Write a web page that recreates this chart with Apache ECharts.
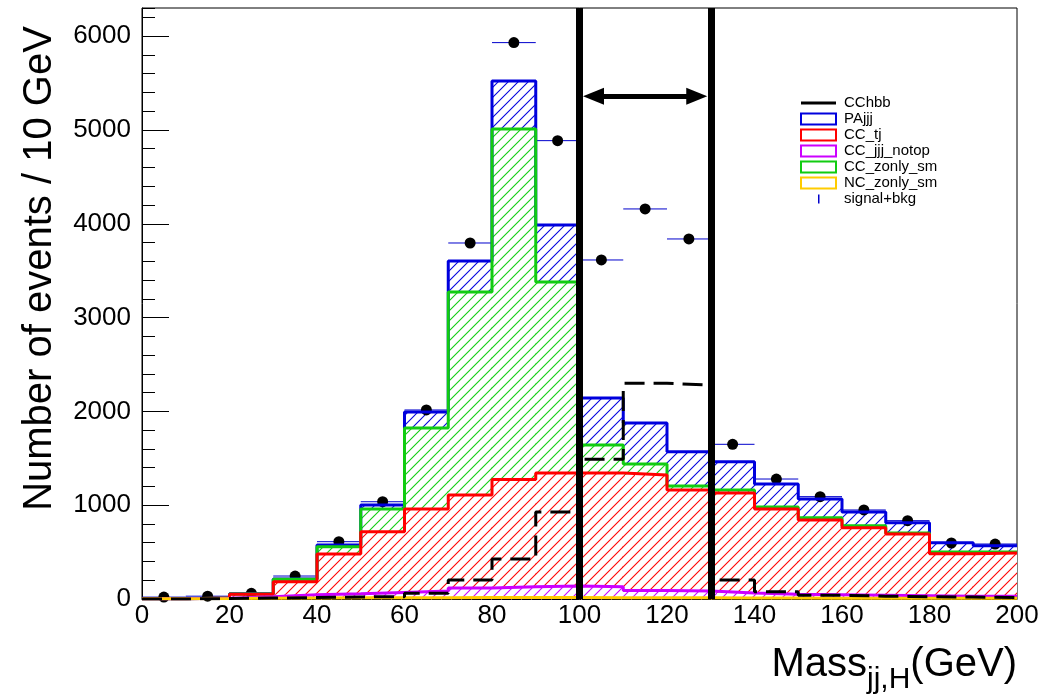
<!DOCTYPE html>
<html><head><meta charset="utf-8">
<script src="https://cdn.jsdelivr.net/npm/echarts@6/dist/echarts.min.js"></script>
<style>html,body{margin:0;padding:0;background:#fff}#c{width:1053px;height:696px}</style>
</head><body><div id="c"></div>
<script>
// ---- data (bin lower edges, GeV; 10 GeV bins) ----
const binLow       = [0,10,20,30,40,50,60,70,80,90,100,110,120,130,140,150,160,170,180,190];
const NC_zonly_sm  = [2,4,8,10,12,12,14,15,15,15,14,12,12,10,10,9,8,8,7,7];
const CC_jjj_notop = [1,3,17,35,43,58,71,102,116,123,117,78,73,54,40,36,32,27,23,21];
const CC_tj        = [0,3,25,140,425,647,875,992,1144,1205,1212,1232,1077,1066,910,797,720,658,453,462];
const CC_zonly_sm  = [0,0,2,25,77,243,863,2164,3736,2037,299,117,43,32,21,25,21,10,18,11];
const PAjjj        = [0,0,3,2,18,42,170,330,511,607,501,437,365,302,245,199,147,110,99,67];
const CChbb        = [0,5,10,15,22,25,60,203,426,927,1490,2300,2280,203,78,40,30,25,20,15];
const signalBkg    = [20,30,60,245,611,1037,2015,3795,5931,4886,3614,4158,3838,1649,1279,1091,949,835,597,586];
const windowEdges  = [100,130];
const xTickStep = 20, yMajorStep = 1000, yMinorStep = 200;
const binWidth = 10;

const FONT = '"Liberation Sans", Arial, Helvetica, sans-serif';
const C = {blue:'#0000dd', green:'#11cc11', red:'#ff0000', mag:'#cc00ff', yel:'#ffcc00'};
const HATCH = 10;

function cum(){ const arrs = Array.from(arguments); return binLow.map((_, i) => arrs.reduce((s, a) => s + a[i], 0)); }
function steps(vals){
  const d = binLow.map((x, i) => [x, vals[i]]);
  d.push([binLow[binLow.length-1] + binWidth, vals[vals.length-1]]);
  return d;
}
const cYel = cum(NC_zonly_sm);
const cMag = cum(NC_zonly_sm, CC_jjj_notop);
const cRed = cum(NC_zonly_sm, CC_jjj_notop, CC_tj);
const cGrn = cum(NC_zonly_sm, CC_jjj_notop, CC_tj, CC_zonly_sm);
const cBlu = cum(NC_zonly_sm, CC_jjj_notop, CC_tj, CC_zonly_sm, PAjjj);

// hatch drawn as thin filled parallelograms (no strokes)
function hatchPolys(xl, xr, yt, yb, color){
  const out = [], h = 0.75;
  for (let c = Math.ceil((xl + yt) / HATCH) * HATCH; c <= xr + yb; c += HATCH){
    const lo = Math.max(xl, c - yb), hi = Math.min(xr, c - yt);
    if (hi - lo > 0.3) out.push({type:'polygon',
      shape:{points:[[lo, c - lo - h], [hi, c - hi - h], [hi, c - hi + h], [lo, c - lo + h]]},
      style:{fill:color}});
  }
  return out;
}
function fillLayer(name, vals, hatchColor){
  return {type:'custom', name: name, itemStyle:{color:hatchColor},
    data: binLow.map((x, i) => [x, vals[i]]),
    renderItem:function(params, api){
      const x = api.value(0), v = api.value(1);
      const p0 = api.coord([x, 0]), p1 = api.coord([x + binWidth, v]);
      const xl = Math.round(p0[0]), xr = Math.round(p1[0]), yt = p1[1], yb = p0[1];
      if (yb - yt < 0.5) return null;
      const children = [{type:'rect', shape:{x:xl, y:yt, width:xr - xl, height:yb - yt}, style:{fill:'#ffffff'}}]
        .concat(hatchPolys(xl, xr, yt, yb, hatchColor));
      return {type:'group', children};
    }};
}
function outline(name, vals, color){
  return {type:'line', name: name + ' outline', step:'end', data: steps(vals), symbol:'none',
    lineStyle:{color:color, width:3}};
}

const chart = echarts.init(document.getElementById('c'));
const blackLine = {color:'#000', width:7, type:'solid'};
const arrowLine = {color:'#000', width:5, type:'solid'};
function box(col){ return {color:'#ffffff', borderColor:col, borderWidth:2}; }
chart.setOption({
  animation:false,
  grid:{left:142, right:36, top:8, bottom:97, show:true, borderColor:'#000', borderWidth:1},
  legend:{orient:'vertical', left:800, top:95, padding:0, itemWidth:35, itemHeight:11, itemGap:0, selectedMode:false,
    textStyle:{fontSize:15, fontFamily:FONT, color:'#000', lineHeight:16, padding:[0,0,0,3]},
    data:[
      {name:'CChbb', icon:'path://M0,0 M0,4 L35,4 L35,7 L0,7 Z M35,11', itemStyle:{color:'#000', borderWidth:0}},
      {name:'PAjjj', icon:'rect', itemStyle:box(C.blue)},
      {name:'CC_tj', icon:'rect', itemStyle:box(C.red)},
      {name:'CC_jjj_notop', icon:'rect', itemStyle:box(C.mag)},
      {name:'CC_zonly_sm', icon:'rect', itemStyle:box(C.green)},
      {name:'NC_zonly_sm', icon:'rect', itemStyle:box(C.yel)},
      {name:'signal+bkg', icon:'path://M0,0 M17,1 L18.5,1 L18.5,10 L17,10 Z M35,11', itemStyle:{color:'#0000cc', borderWidth:0}}
    ]},
  xAxis:{type:'value', min:0, max:200, interval:xTickStep,
    axisLine:{show:true, lineStyle:{color:'#000', width:1}}, axisTick:{show:false}, splitLine:{show:false},
    axisLabel:{fontSize:26, color:'#000', fontFamily:FONT, margin:4, showMaxLabel:true, showMinLabel:true,
      formatter:function(v){ return String(v); }},
    name:'{m|Mass}{s|jj,H}{m|(GeV)}', nameLocation:'end', nameGap:0,
    nameTextStyle:{align:'right', verticalAlign:'top', padding:[46,0,0,0], fontFamily:FONT, color:'#000',
      rich:{m:{fontSize:40, lineHeight:44, verticalAlign:'top', fontFamily:FONT, color:'#000'},
            s:{fontSize:30, lineHeight:44, verticalAlign:'top', padding:[20,0,0,0], fontFamily:FONT, color:'#000'}}}},
  yAxis:[
    {type:'value', min:0, max:6300, interval:yMajorStep, position:'left',
      axisLine:{show:true, lineStyle:{color:'#000', width:1}},
      axisTick:{show:true, inside:true, length:27, lineStyle:{color:'#000', width:1}},
      axisLabel:{showMaxLabel:false, fontSize:26, color:'#000', fontFamily:FONT, margin:11,
        formatter:function(v){ return String(v); }},
      splitLine:{show:false},
      name:'Number of events / 10 GeV', nameLocation:'middle', nameRotate:90, nameGap:82,
      nameTextStyle:{fontSize:40, fontFamily:FONT, color:'#000', padding:[0,0,0,70]}},
    {type:'value', min:0, max:6300, interval:yMinorStep, position:'left',
      axisLine:{show:false}, axisTick:{show:true, inside:true, length:13, lineStyle:{color:'#000', width:1}},
      axisLabel:{show:false}, splitLine:{show:false}}
  ],
  series:[
    fillLayer('PAjjj', cBlu, C.blue),           outline('PAjjj', cBlu, C.blue),
    fillLayer('CC_zonly_sm', cGrn, C.green),    outline('CC_zonly_sm', cGrn, C.green),
    fillLayer('CC_tj', cRed, C.red),            outline('CC_tj', cRed, C.red),
    fillLayer('CC_jjj_notop', cMag, C.mag),     outline('CC_jjj_notop', cMag, C.mag),
    fillLayer('NC_zonly_sm', cYel, C.yel),      outline('NC_zonly_sm', cYel, C.yel),
    {type:'line', name:'CChbb', step:'end', data:steps(CChbb), symbol:'none',
      lineStyle:{color:'#000', width:3, type:[20,9]}, itemStyle:{color:'#000'},
      markLine:{silent:true, symbol:['none','none'], label:{show:false}, animation:false,
        data:[
          {xAxis:windowEdges[0], lineStyle:blackLine},
          {xAxis:windowEdges[1], lineStyle:blackLine},
          [{coord:[103.2,5360], symbol:'triangle', symbolSize:[17,21], lineStyle:arrowLine},
           {coord:[126.8,5360], symbol:'triangle', symbolSize:[17,21], lineStyle:arrowLine}]
        ]}},
    {type:'custom', name:'signal+bkg', itemStyle:{color:'#000'},
      data: binLow.map((x, i) => [x + binWidth/2, signalBkg[i]]),
      renderItem:function(params, api){
        const x = api.value(0), y = api.value(1);
        const c = api.coord([x, y]), l = api.coord([x - binWidth/2, y]), r = api.coord([x + binWidth/2, y]);
        return {type:'group', children:[
          {type:'line', shape:{x1:l[0], y1:l[1], x2:r[0], y2:r[1]}, style:{stroke:'#0000cc', lineWidth:1}},
          {type:'circle', shape:{cx:c[0], cy:c[1], r:5.5}, style:{fill:'#000'}}
        ]};
      }}
  ]
});
</script></body></html>
